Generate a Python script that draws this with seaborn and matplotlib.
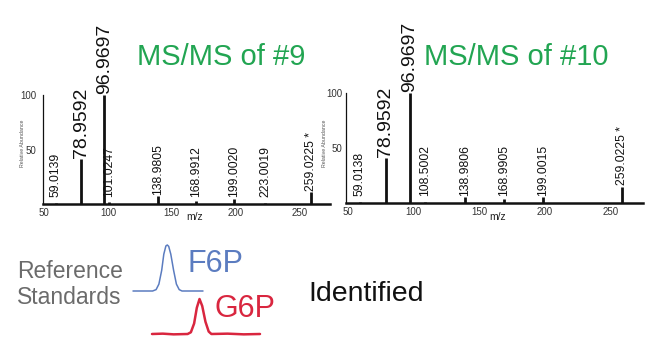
import numpy as np
import pandas as pd
import matplotlib
matplotlib.use("Agg")
import matplotlib.pyplot as plt
import seaborn as sns

# ---------------- data ----------------
mz9 = [59.0139, 78.9592, 96.9697, 101.0247, 138.9805, 168.9912, 199.0020, 223.0019, 259.0225]
ab9 = [0.5, 41, 100, 2, 7, 3, 5, 1, 11]
lab9 = ["59.0139", "78.9592", "96.9697", "101.0247", "138.9805", "168.9912", "199.0020", "223.0019", "259.0225 *"]

mz10 = [59.0138, 78.9592, 96.9697, 108.5002, 138.9806, 168.9905, 199.0015, 259.0225]
ab10 = [0.5, 41, 100, 1, 5.5, 3.5, 5.5, 15]
lab10 = ["59.0138", "78.9592", "96.9697", "108.5002", "138.9806", "168.9905", "199.0015", "259.0225 *"]

big_labels = ["78.9592", "96.9697"]
x_ticks = [50, 100, 150, 200, 250]
y_ticks = [50, 100]

# reference-standard chromatogram traces
f6p_t = [0, 2.8, 3.3, 3.7, 4.1, 4.4, 4.7, 4.9, 5.1, 5.4, 5.8, 6.2, 6.6, 7.0, 10]
f6p_i = [0, 0, 0.03, 0.15, 0.45, 0.8, 0.98, 1.0, 0.97, 0.8, 0.45, 0.15, 0.03, 0, 0]
g6p_t = [0, 1.0, 2.0, 3.3, 3.6, 3.9, 4.15, 4.4, 4.65, 4.95, 5.25, 5.5, 7.0, 8.5, 10]
g6p_i = [0, 0.01, -0.01, 0, 0.05, 0.3, 0.75, 1.0, 0.8, 0.35, 0.07, 0, 0.01, -0.01, 0]

# ---------------- style ----------------
sns.set_theme(style="white")
plt.rcParams["font.family"] = ["Liberation Sans", "DejaVu Sans"]

W, H = 650, 354
fig = plt.figure(figsize=(6.5, 3.54), dpi=100)

def px_axes(x0, x1, ytop, ybot):
    return fig.add_axes([x0 / W, 1 - ybot / H, (x1 - x0) / W, (ybot - ytop) / H])

green = "#22a552"

def spectrum(ax, mz, ab, labels, xlim, title, title_x, mzx, ylab_x, ypad):
    df = pd.DataFrame({"mz": mz, "ab": ab, "label": labels})
    ax.vlines(df["mz"], 0, df["ab"], color="#111111", lw=2.0, clip_on=False)
    for _, r in df.iterrows():
        big = r["label"] in big_labels
        ax.text(r["mz"], max(r["ab"], 5) + 1, r["label"], rotation=90,
                ha="center", va="bottom", fontsize=14 if big else 8.7,
                color="#111111", clip_on=False)
    ax.set_xlim(*xlim)
    ax.set_ylim(0, 100)
    ax.set_xticks(x_ticks)
    ax.set_yticks(y_ticks)
    ax.tick_params(axis="both", length=0, labelsize=7, colors="#333333")
    ax.tick_params(axis="x", pad=3)
    ax.tick_params(axis="y", pad=ypad)
    for s in ["top", "right"]:
        ax.spines[s].set_visible(False)
    ax.spines["bottom"].set_linewidth(1.8)
    ax.spines["bottom"].set_color("#111111")
    ax.spines["left"].set_linewidth(0.9)
    ax.spines["left"].set_color("#111111")
    ax.set_facecolor("none")
    fig.text(mzx / W, 1 - 217 / H, "m/z", ha="center", va="center", fontsize=7.5, color="#222222")
    fig.text(ylab_x / W, 1 - 143 / H, "Relative Abundance", rotation=90, ha="center",
             va="center", fontsize=3.8, color="#555555")
    fig.text(title_x / W, 1 - 57 / H, title, ha="center", va="center", fontsize=21, color=green)

ax1 = px_axes(43, 330, 95, 204)
spectrum(ax1, mz9, ab9, lab9, (49, 274), "MS/MS of #9", 221, 195, 22, 5)
ax2 = px_axes(346, 643, 93, 203)
spectrum(ax2, mz10, ab10, lab10, (48.5, 275), "MS/MS of #10", 516, 498, 324, 2.5)

# chromatogram traces
axb = px_axes(133, 203, 245, 291)
sns.lineplot(x=f6p_t, y=f6p_i, ax=axb, color="#5b7cc0", lw=1.1)
axr = px_axes(152, 260, 299, 334)
sns.lineplot(x=g6p_t, y=g6p_i, ax=axr, color="#d9263f", lw=1.8)
for a in (axb, axr):
    a.set_xlim(0, 10)
    a.set_ylim(0, 1)
    a.axis("off")
    a.set_facecolor("none")
    for l in a.get_lines():
        l.set_clip_on(False)

fig.text(17 / W, 1 - 271 / H, "Reference", ha="left", va="center", fontsize=16.5, color="#6b6b6b")
fig.text(17 / W, 1 - 298 / H, "Standards", ha="left", va="center", fontsize=16.5, color="#6b6b6b")
fig.text(215 / W, 1 - 264 / H, "F6P", ha="center", va="center", fontsize=22, color="#5b7cc0")
fig.text(245 / W, 1 - 309 / H, "G6P", ha="center", va="center", fontsize=22, color="#d9263f")
fig.text(366 / W, 1 - 294 / H, "Identified", ha="center", va="center", fontsize=20.5, color="#111111")

fig.savefig("out.png", dpi=100, facecolor="white")
